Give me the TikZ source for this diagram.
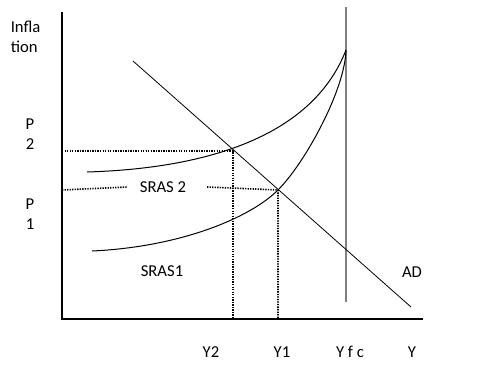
\documentclass[tikz,border=0pt]{standalone}
\usepackage{fontspec}
\setmainfont{Carlito}
\usetikzlibrary{positioning}

\begin{document}
\begin{tikzpicture}[x=0.75pt,y=-0.75pt,
		lbl/.style={font=\fontsize{12.5}{14}\selectfont, inner sep=0pt},
		curve/.style={line width=0.75pt},
		guide/.style={dash pattern=on 1pt off 0.9pt, line width=1.2pt},
		lras/.style={draw=gray, line width=1.3pt}]
		\useasboundingbox (0,0) rectangle (483,370);
		
		% axes
		\coordinate (O) at (62,319);
		\coordinate (ytop) at (62,12);
		\coordinate (xend) at (423,319);
		\draw[line width=0.9pt] (ytop) -- (O) -- (xend);
		
		% long run supply at full employment output
		\coordinate (lrtop) at (346,7);
		\coordinate (lrbot) at (346,302);
		\draw[lras] (lrtop) -- (lrbot);
		
		% aggregate demand
		\coordinate (adtop) at (133,61);
		\coordinate (adbot) at (411,307);
		\draw[line width=0.6pt] (adtop) -- (adbot);
		
		% short run supply curves
		\coordinate (apex) at (346,50);
		\coordinate (s2) at (87,172);
		\coordinate (s1) at (92,251);
		\coordinate (e2) at (233,151);
		\coordinate (e1) at (278,190);
		\draw[curve] (s2) .. controls (220,168) and (315,130) .. (apex);
		\draw[curve] (s1) .. controls (180,247) and (250,218) .. (e1)
			.. controls (305,163) and (345,90) .. (apex);
		
		% labels
		\node[lbl, anchor=west] (infla) at (10.5,27) {Infla};
		\node[lbl, anchor=west] (tion) at (10.5,47) {tion};
		\node[lbl] (pa) at (30,124) {P};
		\node[lbl] (pb) at (30,144) {2};
		\node[lbl] (pc) at (30,204) {P};
		\node[lbl] (pd) at (30,224) {1};
		\node[lbl] (sras2) at (163,187) {SRAS 2};
		\node[lbl] (sras1) at (162,271) {SRAS1};
		\node[lbl] (ad) at (412,272) {AD};
		\node[lbl] (y2) at (211,352) {Y2};
		\node[lbl] (y1) at (282,352) {Y1};
		\node[lbl] (yfc) at (350,352) {Y f c};
		\node[lbl] (yy) at (412,352) {Y};
		
		% dotted guides to the axes
		\coordinate (p2) at (62,151);
		\coordinate (p1) at (62,190);
		\coordinate (q2) at (233,319);
		\coordinate (q1) at (278,319);
		\draw[guide] (p2) -- (e2) -- (q2);
		\draw[guide] (p1) -- ([xshift=-9pt]sras2.west);
		\draw[guide] ([xshift=15.5pt]sras2.east) -- (e1) -- (q1);
	\end{tikzpicture}
\end{document}
